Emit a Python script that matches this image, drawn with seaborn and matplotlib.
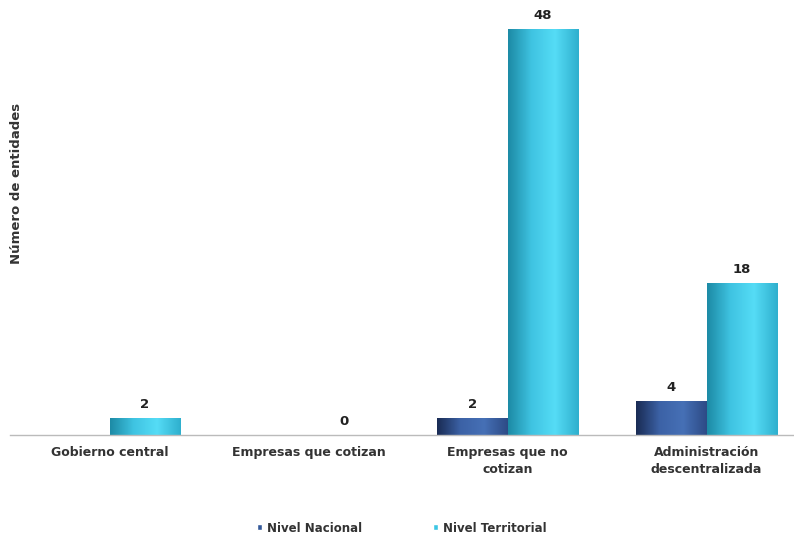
import numpy as np
import pandas as pd
import matplotlib
matplotlib.use("Agg")
import matplotlib.pyplot as plt
import seaborn as sns
from matplotlib.colors import LinearSegmentedColormap

categorias = ["Gobierno central", "Empresas que cotizan",
              "Empresas que no\ncotizan", "Administración\ndescentralizada"]
series = ["Nivel Nacional", "Nivel Territorial"]
nacional = [np.nan, np.nan, 2, 4]
territorial = [2, 0, 48, 18]

df = pd.DataFrame({
    "categoria": categorias * 2,
    "nivel": [series[0]] * 4 + [series[1]] * 4,
    "valor": nacional + territorial,
})
df["dibujo"] = df["valor"].fillna(0)

sns.set_style("white")
plt.rcParams["font.family"] = ["DejaVu Sans"]

colores = {"Nivel Nacional": "#34599A", "Nivel Territorial": "#3CC6E4"}
gradientes = {
    "Nivel Nacional": ["#1A2C55", "#3C62A6", "#4670B6", "#2D4B86"],
    "Nivel Territorial": ["#1D8BA6", "#3FC4E2", "#55DCF6", "#2FB0CE"],
}

fig = plt.figure(figsize=(7.94, 5.36), dpi=100)
ax = fig.add_axes([10 / 794, 1 - 435 / 536, 796 / 794, 423 / 536])

sns.barplot(data=df, x="categoria", y="dibujo", hue="nivel", order=categorias,
            hue_order=series, palette=colores, width=0.71, ax=ax,
            errorbar=None, saturation=1)

# cylinder-like shading: gradient clipped to each bar
for cont, nivel in zip(ax.containers, series):
    cmap = LinearSegmentedColormap.from_list(nivel, gradientes[nivel])
    for p in cont.patches:
        h = p.get_height()
        if not np.isfinite(h) or h <= 0:
            continue
        x0, w = p.get_x(), p.get_width()
        im = ax.imshow(np.linspace(0, 1, 64).reshape(1, -1), cmap=cmap,
                       extent=[x0, x0 + w, 0, h], aspect="auto", zorder=p.get_zorder() + 0.1)
        im.set_clip_path(p)

ax.set_xlim(-0.5, 3.5)
ax.set_ylim(0, 50)

for cont, vals in zip(ax.containers, [nacional, territorial]):
    labels = ["" if pd.isna(v) else f"{int(v)}" for v in vals]
    ax.bar_label(cont, labels=labels, padding=5, fontsize=9.5, fontweight="bold",
                 color="#222222")

ax.set_xlabel("")
ax.set_ylabel("")
ax.set_yticks([])
ax.set_xticks(range(4))
ax.set_xticklabels(categorias, fontsize=9, fontweight="bold", color="#333333",
                   linespacing=1.4)
ax.tick_params(axis="x", length=0, pad=8)
ax.set_xticks([-0.5, 0.5, 1.5, 2.5, 3.5], minor=True)
ax.tick_params(axis="x", which="minor", length=4, color="#999999", direction="out")

for s in ["left", "top", "right"]:
    ax.spines[s].set_visible(False)
ax.spines["bottom"].set_color("#BBBBBB")
ax.spines["bottom"].set_linewidth(1)

fig.text(17 / 794, 1 - 183 / 536, "Número de entidades", rotation=90,
         ha="center", va="center", fontsize=9.5, fontweight="bold", color="#333333")

sns.move_legend(ax, "center", bbox_to_anchor=(392 / 796, (435 - 528) / 423),
                ncol=2, frameon=False, title=None,
                prop={"size": 8.5, "weight": "bold"},
                handlelength=0.45, handleheight=0.45, columnspacing=6,
                handletextpad=0.4)
for t in ax.get_legend().get_texts():
    t.set_color("#333333")

fig.savefig("out.png", dpi=100)
